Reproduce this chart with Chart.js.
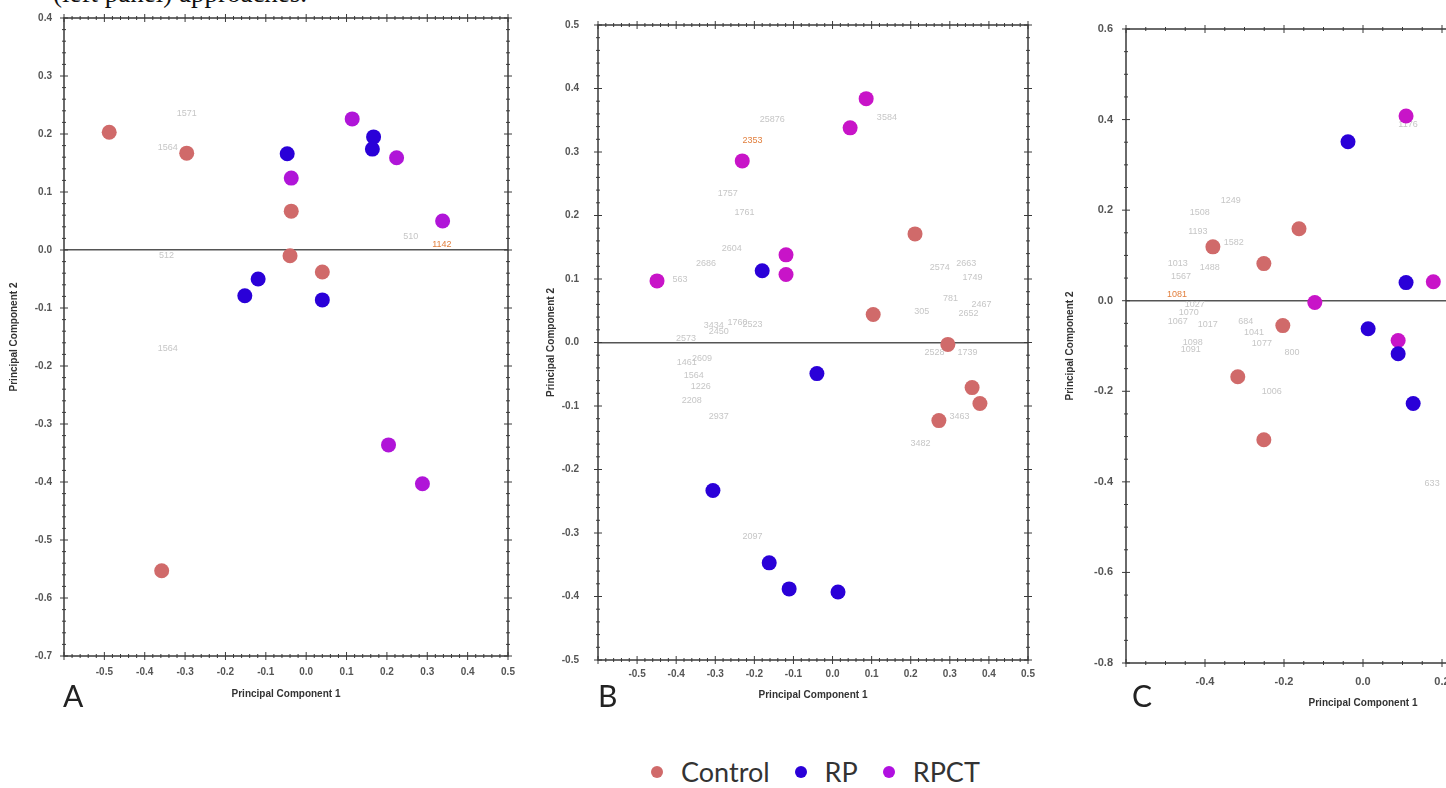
<!DOCTYPE html>
<html>
<head>
<meta charset="utf-8">
<script src="https://cdn.jsdelivr.net/npm/chart.js@4.4.1/dist/chart.umd.min.js"></script>
<style>
  body { margin: 0; width: 1446px; height: 788px; overflow: hidden; background: #fff; position: relative; }
  canvas { position: absolute; top: 0; }
  #capa { position: absolute; left: 53px; top: -20px; font: 27px/27px "Liberation Serif", serif; color: #111; white-space: nowrap; }
  .letra { position: absolute; top: 680px; font: 30px/30px Lato, sans-serif; color: #222; }
  #legenda { position: absolute; left: 651px; top: 757px; display: flex; align-items: center; font: 27px/30px Lato, sans-serif; color: #333; }
  #legenda .ponto { width: 12px; height: 12px; border-radius: 50%; margin-right: 18px; }
  #legenda .nome { margin-right: 25px; }
</style>
</head>
<body>
<div id="capa">(left panel) approaches.</div>
<canvas id="painelA" width="530" height="720" style="left:0px"></canvas>
<canvas id="painelB" width="520" height="720" style="left:530px"></canvas>
<canvas id="painelC" width="570" height="720" style="left:1050px"></canvas>
<div class="letra" style="left:63px">A</div>
<div class="letra" style="left:598px">B</div>
<div class="letra" style="left:1132px">C</div>
<div id="legenda"></div>
<script>
const grupos = ['Control', 'RP', 'RPCT'];

// painel A  [PC1, PC2]
const aControl = [[-0.488, 0.203], [-0.296, 0.167], [-0.037, 0.067], [-0.040, -0.010], [0.040, -0.038], [-0.358, -0.553]];
const aRP = [[-0.047, 0.166], [-0.152, -0.079], [-0.119, -0.050], [0.040, -0.086], [0.167, 0.195], [0.164, 0.174]];
const aRPCT = [[0.114, 0.226], [0.224, 0.159], [-0.037, 0.124], [0.338, 0.050], [0.204, -0.336], [0.288, -0.403]];
const aNotas = [['1571', -0.296, 0.236], ['1564', -0.343, 0.176], ['512', -0.346, -0.010], ['1564', -0.343, -0.169], ['510', 0.259, 0.024], ['1142', 0.336, 0.010]];

// painel B
const bControl = [[0.211, 0.171], [0.104, 0.044], [0.295, -0.003], [0.357, -0.071], [0.377, -0.096], [0.272, -0.123]];
const bRP = [[-0.180, 0.113], [-0.040, -0.049], [-0.306, -0.233], [-0.162, -0.347], [-0.111, -0.388], [0.014, -0.393]];
const bRPCT = [[0.086, 0.384], [0.045, 0.338], [-0.231, 0.286], [-0.119, 0.138], [-0.119, 0.107], [-0.449, 0.097]];
const bNotas = [
  ['25876', -0.154, 0.351], ['3584', 0.139, 0.354], ['2353', -0.205, 0.318], ['1757', -0.268, 0.234],
  ['1761', -0.225, 0.204], ['2604', -0.258, 0.148], ['2686', -0.324, 0.124], ['563', -0.390, 0.099],
  ['2574', 0.274, 0.118], ['2663', 0.342, 0.124], ['1749', 0.358, 0.102], ['305', 0.228, 0.049],
  ['781', 0.302, 0.069], ['2467', 0.381, 0.060], ['2652', 0.348, 0.046], ['3434', -0.304, 0.027],
  ['1760', -0.243, 0.031], ['2523', -0.205, 0.028], ['2450', -0.291, 0.017], ['2573', -0.375, 0.006],
  ['2609', -0.334, -0.025], ['1461', -0.373, -0.031], ['1564', -0.355, -0.052], ['1226', -0.337, -0.069],
  ['2208', -0.360, -0.091], ['2937', -0.291, -0.116], ['2528', 0.261, -0.016], ['1739', 0.345, -0.016],
  ['3463', 0.325, -0.116], ['3482', 0.225, -0.159], ['2097', -0.205, -0.305]
];

// painel C
const cControl = [[-0.380, 0.119], [-0.162, 0.159], [-0.251, 0.082], [-0.203, -0.055], [-0.317, -0.168], [-0.251, -0.307]];
const cRP = [[-0.038, 0.351], [0.109, 0.040], [0.013, -0.062], [0.089, -0.117], [0.127, -0.227]];
const cRPCT = [[0.109, 0.408], [0.178, 0.042], [-0.122, -0.004], [0.089, -0.088]];
const cNotas = [
  ['1249', -0.335, 0.221], ['1508', -0.413, 0.194], ['1193', -0.418, 0.152], ['1582', -0.327, 0.128],
  ['1013', -0.469, 0.082], ['1488', -0.388, 0.073], ['1567', -0.461, 0.053], ['1081', -0.471, 0.013],
  ['1027', -0.426, -0.009], ['1070', -0.441, -0.026], ['1067', -0.469, -0.046], ['1017', -0.393, -0.053],
  ['684', -0.297, -0.046], ['1041', -0.276, -0.071], ['1077', -0.256, -0.095], ['800', -0.180, -0.115],
  ['1098', -0.431, -0.093], ['1091', -0.436, -0.108], ['1006', -0.231, -0.201], ['1176', 0.114, 0.388],
  ['633', 0.175, -0.404]
];

const destaques = ['1142', '2353', '1081'];

// moldura com marcas nos quatro lados
const moldura = {
  id: 'moldura',
  afterDatasetsDraw(chart, args, opts) {
    const { ctx, chartArea: a, scales: { x, y } } = chart;
    ctx.save();
    ctx.strokeStyle = '#3a3a3a';
    ctx.lineWidth = 1.5;
    ctx.strokeRect(a.left, a.top, a.right - a.left, a.bottom - a.top);
    ctx.lineWidth = 1;
    const marcas = (escala, menor, maior, horiz) => {
      const n0 = Math.ceil(escala.min / menor - 1e-6);
      const n1 = Math.floor(escala.max / menor + 1e-6);
      for (let k = n0; k <= n1; k++) {
        const v = k * menor;
        const r = v / maior;
        const len = Math.abs(r - Math.round(r)) < 1e-6 ? 4 : 2;
        const p = escala.getPixelForValue(v);
        ctx.beginPath();
        if (horiz) {
          ctx.moveTo(p, a.bottom - len); ctx.lineTo(p, a.bottom + len);
          ctx.moveTo(p, a.top - len); ctx.lineTo(p, a.top + len);
        } else {
          ctx.moveTo(a.left - len, p); ctx.lineTo(a.left + len, p);
          ctx.moveTo(a.right - len, p); ctx.lineTo(a.right + len, p);
        }
        ctx.stroke();
      }
    };
    marcas(x, opts.xMenor, opts.xMaior, true);
    marcas(y, opts.yMenor, opts.yMaior, false);
    ctx.restore();
  }
};

// rótulos cinzentos das variáveis
const notas = {
  id: 'notas',
  beforeDatasetsDraw(chart, args, opts) {
    const { ctx, scales: { x, y } } = chart;
    ctx.save();
    ctx.font = '9px "Liberation Sans", Arial, sans-serif';
    ctx.textAlign = 'center';
    ctx.textBaseline = 'middle';
    opts.lista.forEach(([t, vx, vy]) => {
      ctx.fillStyle = destaques.includes(t) ? '#e2803f' : '#c6c6c6';
      ctx.fillText(t, x.getPixelForValue(vx), y.getPixelForValue(vy));
    });
    ctx.restore();
  }
};

function rotulo(v) {
  return (Math.abs(v) < 1e-9 ? 0 : v).toFixed(1);
}

function criarPainel(id, p) {
  const fonteTick = { family: '"Liberation Sans", Arial, sans-serif', size: p.fonte, weight: 'bold' };
  const fonteTitulo = { family: '"Liberation Sans", Arial, sans-serif', size: 10, weight: 'bold' };
  return new Chart(document.getElementById(id), {
    type: 'scatter',
    data: {
      datasets: grupos.map((g, i) => ({
        label: g,
        data: p.series[i].map(([x, y]) => ({ x, y })),
        backgroundColor: p.cores[i],
        borderWidth: 0,
        pointRadius: 7.5,
        pointHoverRadius: 7.5
      }))
    },
    plugins: [notas, moldura],
    options: {
      responsive: false,
      animation: false,
      devicePixelRatio: 1,
      layout: { padding: { left: 0, top: p.topo, right: p.direita, bottom: 0 } },
      plugins: {
        legend: { display: false },
        tooltip: { enabled: false },
        notas: { lista: p.notas },
        moldura: { xMenor: p.xMenor, xMaior: p.xPasso, yMenor: p.yMenor, yMaior: p.yPasso }
      },
      scales: {
        x: {
          type: 'linear', min: p.xMin, max: p.xMax,
          afterFit: s => { s.height = p.xAltura; },
          border: { display: false },
          grid: { display: false, drawTicks: false },
          ticks: {
            stepSize: p.xPasso, autoSkip: false, maxRotation: 0, padding: p.xPad,
            color: '#555', font: fonteTick,
            callback: v => (v < p.xMin + 1e-6 ? '' : rotulo(v))
          },
          title: { display: true, text: 'Principal Component 1', color: '#333', font: fonteTitulo, padding: { top: 0, bottom: p.xTitulo } }
        },
        y: {
          type: 'linear', min: p.yMin, max: p.yMax,
          afterFit: s => { s.width = p.yLargura; },
          border: { display: false },
          grid: {
            drawTicks: false,
            lineWidth: 1.5,
            color: c => (c.tick && Math.abs(c.tick.value) < 1e-9 ? '#555' : 'rgba(0,0,0,0)')
          },
          ticks: { stepSize: p.yPasso, autoSkip: false, padding: p.yPad, color: '#555', font: fonteTick, callback: v => rotulo(v) },
          title: { display: true, text: 'Principal Component 2', color: '#333', font: fonteTitulo, padding: { top: p.yTitulo, bottom: 0 } }
        }
      }
    }
  });
}

criarPainel('painelA', {
  series: [aControl, aRP, aRPCT], notas: aNotas,
  cores: ['#d06a6a', '#2a00d8', '#b015d8'],
  xMin: -0.6, xMax: 0.5, yMin: -0.7, yMax: 0.4,
  xPasso: 0.1, yPasso: 0.1, xMenor: 0.02, yMenor: 0.02,
  topo: 17, direita: 22, xAltura: 64, yLargura: 64,
  xPad: 10, yPad: 12, xTitulo: 20, yTitulo: 8, fonte: 10
});

criarPainel('painelB', {
  series: [bControl, bRP, bRPCT], notas: bNotas,
  cores: ['#d06a6a', '#2a00d8', '#c814c8'],
  xMin: -0.6, xMax: 0.5, yMin: -0.5, yMax: 0.5,
  xPasso: 0.1, yPasso: 0.1, xMenor: 0.02, yMenor: 0.02,
  topo: 24, direita: 22, xAltura: 60, yLargura: 68,
  xPad: 8, yPad: 19, xTitulo: 19, yTitulo: 15, fonte: 10
});

criarPainel('painelC', {
  series: [cControl, cRP, cRPCT], notas: cNotas,
  cores: ['#d06a6a', '#2a00d8', '#c814c8'],
  xMin: -0.6, xMax: 0.6, yMin: -0.8, yMax: 0.6,
  xPasso: 0.2, yPasso: 0.2, xMenor: 0.05, yMenor: 0.05,
  topo: 29, direita: 20, xAltura: 57, yLargura: 76,
  xPad: 12, yPad: 13, xTitulo: 11, yTitulo: 14, fonte: 11
});

// legenda comum
const coresLegenda = ['#d06a6a', '#2a00d8', '#b010e0'];
const legenda = document.getElementById('legenda');
grupos.forEach((g, i) => {
  const ponto = document.createElement('span');
  ponto.className = 'ponto';
  ponto.style.background = coresLegenda[i];
  const nome = document.createElement('span');
  nome.className = 'nome';
  nome.textContent = g;
  legenda.appendChild(ponto);
  legenda.appendChild(nome);
});
</script>
</body>
</html>
